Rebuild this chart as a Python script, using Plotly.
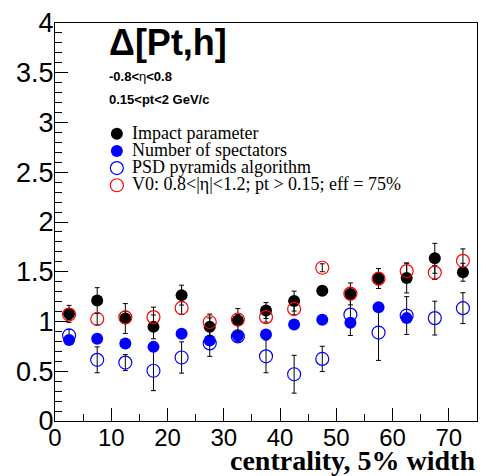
import plotly.graph_objects as go

centrality = [2.5, 7.5, 12.5, 17.5, 22.5, 27.5, 32.5, 37.5, 42.5, 47.5, 52.5, 57.5, 62.5, 67.5, 72.5]

impact = [1.077, 1.21, 1.03, 0.946, 1.265, 0.946, 1.01, 1.11, 1.205, 1.31, 1.277, 1.432, 1.437, 1.635, 1.495]
impact_err = [0.085, 0.13, 0.15, 0.12, 0.1, 0.09, 0.12, 0.08, 0.1, 0.04, 0.11, 0.1, 0.15, 0.15, 0.09]

spect_x = [2.5, 7.5, 12.5, 17.5, 22.5, 27.5, 32.5, 37.5, 42.5, 47.5, 52.5, 57.5, 62.5]
spect = [0.815, 0.827, 0.78, 0.745, 0.877, 0.808, 0.857, 0.87, 0.969, 1.018, 0.988, 1.143, 1.034]
spect_err = [0.03, 0.03, 0.03, 0.03, 0.03, 0.03, 0.03, 0.03, 0.03, 0.03, 0.03, 0.03, 0.03]

psd = [0.86, 0.615, 0.587, 0.505, 0.638, 0.78, 0.85, 0.65, 0.47, 0.624, 1.069, 0.889, 1.06, 1.034, 1.134]
psd_err = [0.06, 0.13, 0.08, 0.2, 0.157, 0.13, 0.05, 0.165, 0.19, 0.127, 0.21, 0.28, 0.19, 0.17, 0.155]

v0 = [1.07, 1.025, 1.042, 1.044, 1.136, 0.995, 1.02, 1.044, 1.126, 1.54, 1.28, 1.43, 1.507, 1.492, 1.61]
v0_err = [0.05, 0.06, 0.06, 0.1, 0.065, 0.08, 0.05, 0.05, 0.06, 0.04, 0.06, 0.06, 0.08, 0.07, 0.12]

names = ["Impact parameter", "Number of spectators", "PSD pyramids algorithm",
         "V0: 0.8<|η|<1.2; pt > 0.15; eff = 75%"]
colors = ["black", "blue", "blue", "red"]
symbols = ["circle", "circle", "circle-open", "circle-open"]

SANS = "Liberation Sans, Arial, sans-serif"
SERIF = "Liberation Serif, Times New Roman, serif"

# plot-area geometry in pixels (for placing the legend/labels in domain fractions)
L, R, T, B = 55, 478, 15, 421
W, H = R - L, B - T

def px_x(p):
    return (p - L) / W

def px_y(p):
    return (B - p) / H

def err(vals):
    return dict(type="data", array=vals, visible=True, color="black", thickness=1, width=2.5)

def marker(i):
    if symbols[i] == "circle-open":
        return dict(symbol="circle-open", size=13, color=colors[i], line=dict(width=1.2, color=colors[i]))
    return dict(symbol="circle", size=12, color=colors[i])

fig = go.Figure()
fig.add_trace(go.Scatter(x=centrality, y=psd, mode="markers", name=names[2], showlegend=False,
                         marker=marker(2), error_y=err(psd_err)))
fig.add_trace(go.Scatter(x=spect_x, y=spect, mode="markers", name=names[1], showlegend=False,
                         marker=marker(1), error_y=err(spect_err)))
fig.add_trace(go.Scatter(x=centrality, y=impact, mode="markers", name=names[0], showlegend=False,
                         marker=marker(0), error_y=err(impact_err)))
fig.add_trace(go.Scatter(x=centrality, y=v0, mode="markers", name=names[3], showlegend=False,
                         marker=marker(3), error_y=err(v0_err)))

# legend (ROOT-style TLegend, drawn on an overlay domain axis)
leg_rows_px = [128, 145.5, 163, 180.5]
leg_marker_x_px = 117
leg_text_x_px = 130
for i in range(4):
    fig.add_trace(go.Scatter(x=[px_x(leg_marker_x_px)], y=[px_y(leg_rows_px[i])], mode="markers",
                             xaxis="x2", yaxis="y2", showlegend=False, hoverinfo="skip",
                             marker=marker(i)))

annotations = [
    dict(text="<b>Δ[Pt,h]</b>", x=px_x(107), y=px_y(35), xref="paper", yref="paper", showarrow=False,
         xanchor="left", yanchor="middle", font=dict(family=SANS, size=36, color="black")),
    dict(text="<b>-0.8<</b>η<b><0.8</b>", x=px_x(107), y=px_y(70), xref="paper", yref="paper",
         showarrow=False, xanchor="left", yanchor="middle", font=dict(family=SANS, size=13, color="black")),
    dict(text="<b>0.15<pt<2 GeV/c</b>", x=px_x(107), y=px_y(93), xref="paper", yref="paper",
         showarrow=False, xanchor="left", yanchor="middle", font=dict(family=SANS, size=13, color="black")),
    dict(text="<b>centrality, 5% width</b>", x=1, y=px_y(461), xref="paper", yref="paper", showarrow=False,
         xanchor="right", yanchor="middle", font=dict(family=SERIF, size=28, color="black")),
]
for i in range(4):
    annotations.append(dict(text=names[i], x=px_x(leg_text_x_px), y=px_y(leg_rows_px[i] - 1),
                            xref="paper", yref="paper", showarrow=False, xanchor="left", yanchor="middle",
                            font=dict(family=SERIF, size=18, color="black")))

fig.update_layout(
    width=486, height=476,
    margin=dict(l=L, r=486 - R, t=T, b=476 - B),
    paper_bgcolor="white", plot_bgcolor="white",
    showlegend=False,
    xaxis=dict(range=[0, 75], dtick=10, tick0=0, ticks="inside", ticklen=13, tickcolor="black",
               showline=True, linecolor="black", linewidth=1, mirror=True, showgrid=False, zeroline=False,
               tickfont=dict(family=SANS, size=24, color="black"), ticklabelstandoff=-5,
               minor=dict(ticks="inside", dtick=5, ticklen=7, tickcolor="black", showgrid=False)),
    yaxis=dict(range=[0, 4], dtick=0.5, tick0=0, ticks="inside", ticklen=13, tickcolor="black",
               showline=True, linecolor="black", linewidth=1, mirror=True, showgrid=False, zeroline=False,
               tickfont=dict(family=SANS, size=27, color="black"), ticklabelstandoff=-5,
               minor=dict(ticks="inside", dtick=0.1, ticklen=7, tickcolor="black", showgrid=False)),
    xaxis2=dict(range=[0, 1], overlaying="x", visible=False, fixedrange=True),
    yaxis2=dict(range=[0, 1], overlaying="y", visible=False, fixedrange=True),
    annotations=annotations,
)

fig.write_html("out.html")
